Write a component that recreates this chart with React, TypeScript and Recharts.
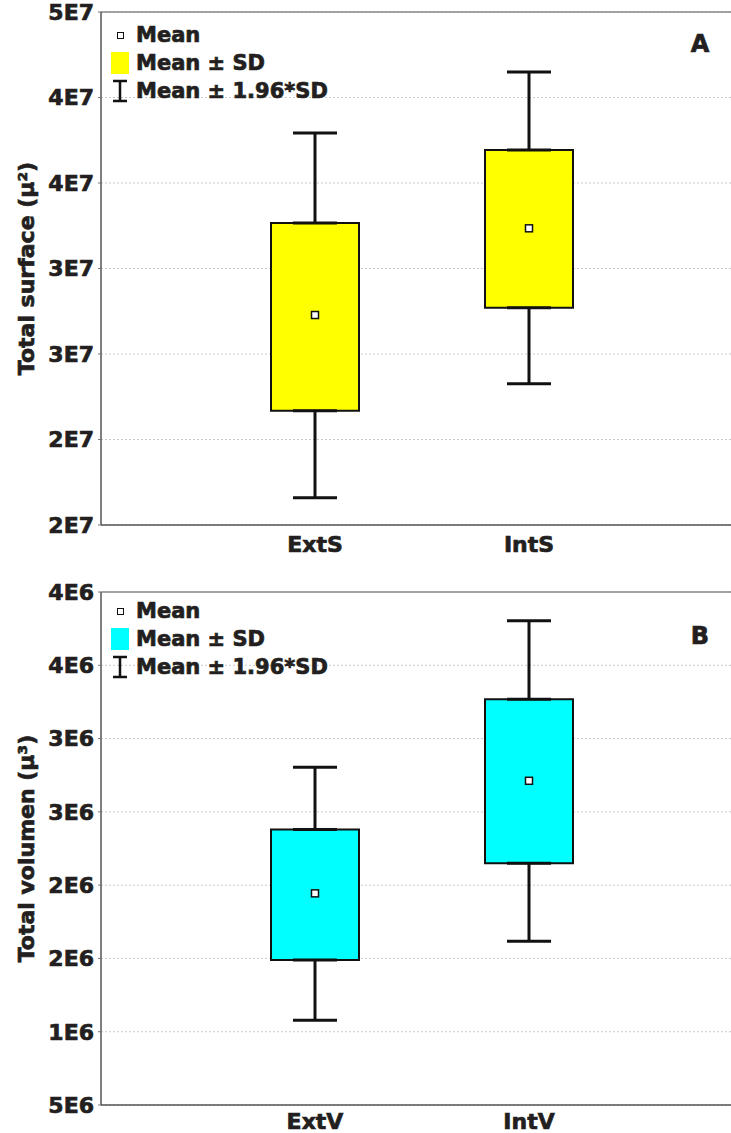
import React from 'react';
import { ComposedChart, Bar, Line, ErrorBar, XAxis, YAxis, CartesianGrid, ReferenceLine } from 'recharts';

// panel A - total surface
const surfaceCats = ['ExtS', 'IntS'];
const surfaceMean = [2.728e7, 3.235e7];
const surfaceSdLow = [2.168e7, 2.771e7];
const surfaceSdHigh = [3.266e7, 3.693e7];
const surfaceCiLow = [1.66e7, 2.326e7];
const surfaceCiHigh = [3.792e7, 4.149e7];
const surfaceTicks = [1.5e7, 2e7, 2.5e7, 3e7, 3.5e7, 4e7, 4.5e7];
const surfaceTickLabels = ['2E7', '2E7', '3E7', '3E7', '4E7', '4E7', '5E7'];

// panel B - total volume
const volumeCats = ['ExtV', 'IntV'];
const volumeMean = [1.944e6, 2.712e6];
const volumeSdLow = [1.49e6, 2.149e6];
const volumeSdHigh = [2.38e6, 3.268e6];
const volumeCiLow = [1.079e6, 1.617e6];
const volumeCiHigh = [2.805e6, 3.804e6];
const volumeTicks = [0.5e6, 1e6, 1.5e6, 2e6, 2.5e6, 3e6, 3.5e6, 4e6];
const volumeTickLabels = ['5E6', '1E6', '2E6', '2E6', '3E6', '3E6', '4E6', '4E6'];

const FONT = '"DejaVu Sans", sans-serif';
const INK = '#231f20';
const heavyText = { fontFamily: FONT, fontWeight: 'bold', fontSize: 22, fill: INK, stroke: INK, strokeWidth: 0.7 };

const buildRows = (cats: string[], mean: number[], sdLow: number[], sdHigh: number[], ciLow: number[], ciHigh: number[]) =>
  cats.map((name, i) => ({
    name,
    mean: mean[i],
    sdLow: sdLow[i],
    sdHigh: sdHigh[i],
    box: [sdLow[i], sdHigh[i]],
    upErr: [0, ciHigh[i] - sdHigh[i]],
    lowErr: [sdLow[i] - ciLow[i], 0],
  }));

const MeanDot = (p: any) => (
  <rect key={`m-${p.index}`} x={p.cx - 3.5} y={p.cy - 3.5} width={7} height={7} fill="#fff" stroke="#111" strokeWidth={1.5} />
);

const LegendBlock: React.FC<{ fill: string; top: number }> = ({ fill, top }) => {
  const row: React.CSSProperties = { display: 'flex', alignItems: 'center', height: 28 };
  const icon: React.CSSProperties = { width: 18, height: 24, marginRight: 7, display: 'flex', alignItems: 'center', justifyContent: 'center' };
  const txt: React.CSSProperties = {
    fontFamily: FONT, fontWeight: 'bold', fontSize: 21, color: INK, whiteSpace: 'nowrap', WebkitTextStroke: `0.7px ${INK}`,
  };
  return (
    <div style={{ position: 'absolute', left: 111, top }}>
      <div style={row}>
        <div style={icon}><div style={{ width: 5, height: 5, border: '1.5px solid #111', background: '#fff' }} /></div>
        <span style={txt}>Mean</span>
      </div>
      <div style={row}>
        <div style={icon}><div style={{ width: 18, height: 22, background: fill }} /></div>
        <span style={txt}>Mean ± SD</span>
      </div>
      <div style={row}>
        <div style={icon}>
          <svg width={18} height={24}>
            <path d="M2 2H16M9 2V22M2 22H16" stroke="#111" strokeWidth={2.5} fill="none" />
          </svg>
        </div>
        <span style={txt}>Mean ± 1.96*SD</span>
      </div>
    </div>
  );
};

// plot box runs past the right edge of the picture (negative right margin), as in the original
const Panel: React.FC<{
  rows: any[]; fill: string; ticks: number[]; tickLabels: string[]; title: string; marginTop: number; height: number; xMargin: number;
}> = ({ rows, fill, ticks, tickLabels, title, marginTop, height, xMargin }) => (
  <ComposedChart width={731} height={height} data={rows} margin={{ top: marginTop, right: -29, bottom: 0, left: 0 }}>
    <CartesianGrid vertical={false} stroke="#c8c8c8" strokeDasharray="2 2" />
    <XAxis
      dataKey="name"
      type="category"
      padding={{ left: 107, right: 124 }}
      height={40}
      axisLine={{ stroke: '#555', strokeWidth: 1.5 }}
      tickLine={false}
      tickSize={0}
      tickMargin={xMargin}
      tick={heavyText}
    />
    <YAxis
      type="number"
      width={101}
      domain={[ticks[0], ticks[ticks.length - 1]]}
      ticks={ticks}
      interval={0}
      allowDataOverflow
      tickFormatter={(v: number, i: number) => tickLabels[i]}
      axisLine={{ stroke: '#555', strokeWidth: 1.5 }}
      tickLine={{ stroke: '#777' }}
      tickSize={3}
      tickMargin={4}
      tick={heavyText}
      label={{ value: title, angle: -90, position: 'center', dx: -24, style: heavyText }}
    />
    <ReferenceLine y={ticks[ticks.length - 1]} stroke="#888" strokeWidth={1.5} />
    <Bar dataKey="box" barSize={88} fill={fill} stroke="#111" strokeWidth={2} isAnimationActive={false} />
    <Line dataKey="sdHigh" stroke="none" dot={false} activeDot={false} isAnimationActive={false}>
      <ErrorBar dataKey="upErr" direction="y" width={22} stroke="#111" strokeWidth={3} />
    </Line>
    <Line dataKey="sdLow" stroke="none" dot={false} activeDot={false} isAnimationActive={false}>
      <ErrorBar dataKey="lowErr" direction="y" width={22} stroke="#111" strokeWidth={3} />
    </Line>
    <Line dataKey="mean" stroke="none" dot={MeanDot} activeDot={false} isAnimationActive={false} />
  </ComposedChart>
);

const panelLetter: React.CSSProperties = {
  position: 'absolute', left: 690, width: 20, textAlign: 'center', fontFamily: FONT, fontWeight: 'bold', fontSize: 24,
  color: INK, lineHeight: '24px', WebkitTextStroke: `0.7px ${INK}`,
};

const App: React.FC = () => {
  const surfaceRows = buildRows(surfaceCats, surfaceMean, surfaceSdLow, surfaceSdHigh, surfaceCiLow, surfaceCiHigh);
  const volumeRows = buildRows(volumeCats, volumeMean, volumeSdLow, volumeSdHigh, volumeCiLow, volumeCiHigh);

  return (
    <div style={{ position: 'absolute', left: 0, top: 0, width: 731, height: 1133, overflow: 'hidden', background: '#fff' }}>
      <div style={{ position: 'absolute', left: 0, top: 0 }}>
        <Panel rows={surfaceRows} fill="#ffff00" ticks={surfaceTicks} tickLabels={surfaceTickLabels}
          title="Total surface (µ²)" marginTop={12} height={565} xMargin={11} />
      </div>
      <div style={{ position: 'absolute', left: 0, top: 560 }}>
        <Panel rows={volumeRows} fill="#00ffff" ticks={volumeTicks} tickLabels={volumeTickLabels}
          title="Total volumen (µ³)" marginTop={32} height={585} xMargin={8} />
      </div>
      <LegendBlock fill="#ffff00" top={21} />
      <LegendBlock fill="#00ffff" top={597} />
      <div style={{ ...panelLetter, top: 32 }}>A</div>
      <div style={{ ...panelLetter, top: 624 }}>B</div>
    </div>
  );
};

export default App;
